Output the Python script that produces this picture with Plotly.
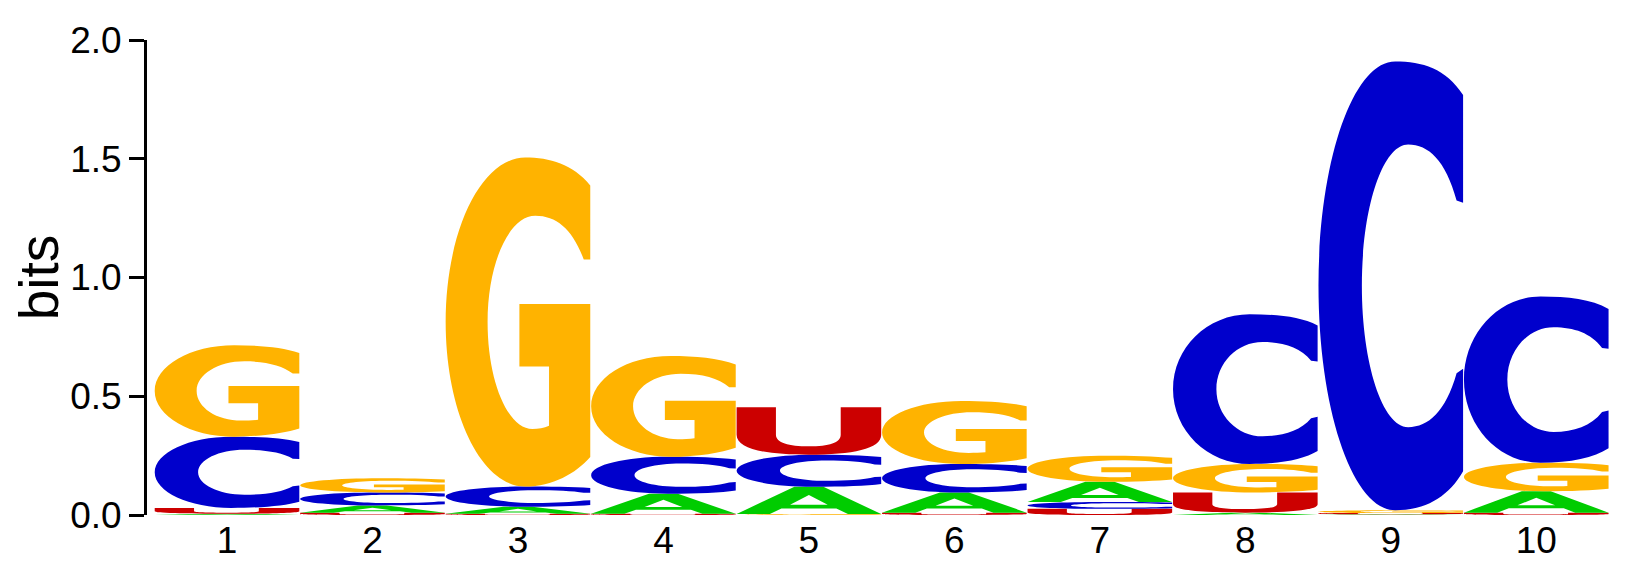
import plotly.graph_objects as go

# sequence logo data: information (bits) per letter at each position
positions = [1, 2, 3, 4, 5, 6, 7, 8, 9, 10]
tick_labels = ["1", "2", "3", "4", "5", "6", "7", "8", "9", "10"]
A_bits = [0.005, 0.030, 0.030, 0.085, 0.115, 0.085, 0.085, 0.010, 0.003, 0.090]
C_bits = [0.300, 0.055, 0.085, 0.155, 0.135, 0.120, 0.029, 0.630, 1.890, 0.700]
G_bits = [0.385, 0.060, 1.385, 0.425, 0.004, 0.265, 0.110, 0.120, 0.012, 0.120]
U_bits = [0.025, 0.010, 0.005, 0.005, 0.200, 0.010, 0.026, 0.085, 0.005, 0.010]

colors = {"A": "#00CC00", "C": "#0000CC", "G": "#FFB300", "U": "#CC0000"}

# letter outlines in a unit box (x right, y up), stretched onto each stack slot
K = 0.552
glyphs = {
    "A": [("M", 0, 0), ("L", 0.40, 1), ("L", 0.60, 1), ("L", 1, 0), ("L", 0.77, 0),
          ("L", 0.69, 0.20), ("L", 0.31, 0.20), ("L", 0.23, 0), ("Z",),
          ("M", 0.37, 0.34), ("L", 0.5, 0.70), ("L", 0.63, 0.34), ("Z",)],
    "C": [("M", 1.0, 0.925),
          ("C", 0.88, 0.985, 0.72, 1.0, 0.53, 1.0),
          ("C", 0.53 - 0.53 * K, 1.0, 0, 0.5 + 0.5 * K, 0, 0.5),
          ("C", 0, 0.5 - 0.5 * K, 0.53 - 0.53 * K, 0, 0.53, 0),
          ("C", 0.74, 0, 0.9, 0.03, 1.0, 0.087),
          ("L", 1.0, 0.315), ("L", 0.955, 0.305),
          ("C", 0.88, 0.22, 0.76, 0.185, 0.62, 0.185),
          ("C", 0.62 - 0.32 * K, 0.185, 0.30, 0.5 - 0.315 * K, 0.30, 0.5),
          ("C", 0.30, 0.5 + 0.315 * K, 0.62 - 0.32 * K, 0.815, 0.62, 0.815),
          ("C", 0.76, 0.815, 0.88, 0.78, 0.955, 0.69),
          ("L", 1.0, 0.685), ("Z",)],
    "G": [("M", 1.0, 0.915),
          ("C", 0.88, 0.98, 0.72, 1.0, 0.55, 1.0),
          ("C", 0.55 - 0.55 * K, 1.0, 0, 0.5 + 0.5 * K, 0, 0.5),
          ("C", 0, 0.5 - 0.5 * K, 0.55 - 0.55 * K, 0, 0.55, 0),
          ("C", 0.74, 0, 0.9, 0.04, 1.0, 0.09),
          ("L", 1.0, 0.555), ("L", 0.51, 0.555), ("L", 0.51, 0.365),
          ("L", 0.715, 0.365), ("L", 0.715, 0.185),
          ("C", 0.68, 0.178, 0.64, 0.175, 0.60, 0.175),
          ("C", 0.60 - 0.31 * K, 0.175, 0.29, 0.5 - 0.325 * K, 0.29, 0.5),
          ("C", 0.29, 0.5 + 0.323 * K, 0.62 - 0.33 * K, 0.823, 0.62, 0.823),
          ("C", 0.77, 0.823, 0.88, 0.78, 0.955, 0.69),
          ("L", 1.0, 0.69), ("Z",)],
    "U": [("M", 0, 1), ("L", 0.272, 1), ("L", 0.272, 0.42),
          ("C", 0.272, 0.25, 0.36, 0.175, 0.5, 0.175),
          ("C", 0.64, 0.175, 0.72, 0.25, 0.72, 0.42),
          ("L", 0.72, 1), ("L", 1, 1), ("L", 1, 0.42),
          ("C", 1, 0.12, 0.8, 0, 0.5, 0),
          ("C", 0.2, 0, 0, 0.12, 0, 0.42), ("Z",)],
}


def glyph_path(letter, x0, width, y0, height):
    parts = []
    for seg in glyphs[letter]:
        cmd, nums = seg[0], seg[1:]
        pts = []
        for i in range(0, len(nums), 2):
            pts.append("%.5f,%.5f" % (x0 + nums[i] * width, y0 + nums[i + 1] * height))
        parts.append(cmd + " ".join(pts))
    return " ".join(parts)


bits = {"A": A_bits, "C": C_bits, "G": G_bits, "U": U_bits}
shapes = []
for i, pos in enumerate(positions):
    stack = sorted(bits.keys(), key=lambda l: bits[l][i])
    base = 0.0
    for letter in stack:
        h = bits[letter][i]
        shapes.append(dict(type="path", xref="x", yref="y",
                           path=glyph_path(letter, pos - 0.497, 0.994, base, h),
                           fillcolor=colors[letter], line=dict(width=0), layer="above"))
        base += h

fig = go.Figure()
# invisible trace so the axes are drawn
fig.add_trace(go.Scatter(x=positions, y=[0] * len(positions), mode="markers",
                         marker=dict(opacity=0), hoverinfo="skip", showlegend=False))

# the page body keeps its default 8px margin, margins below allow for it
fig.update_layout(
    width=1630, height=565,
    margin=dict(l=139, r=29, t=21, b=50),
    plot_bgcolor="white", paper_bgcolor="white",
    font=dict(family="Liberation Sans, Arial, sans-serif", color="black"),
    shapes=shapes,
)
fig.update_xaxes(range=[0.45, 10.5], tickvals=positions, ticktext=tick_labels,
                 showline=False, ticks="", showgrid=False, zeroline=False,
                 tickfont=dict(size=37))
fig.update_yaxes(range=[0, 2], tickvals=[0, 0.5, 1.0, 1.5, 2.0],
                 ticktext=["0.0", "0.5", "1.0", "1.5", "2.0"],
                 showline=True, linecolor="black", linewidth=3,
                 ticks="outside", ticklen=15, tickwidth=3, tickcolor="black",
                 showgrid=False, zeroline=False, tickfont=dict(size=37),
                 ticklabeloverflow="allow",
                 title=dict(text="bits", font=dict(size=55), standoff=12))

fig.write_html("out.html")
